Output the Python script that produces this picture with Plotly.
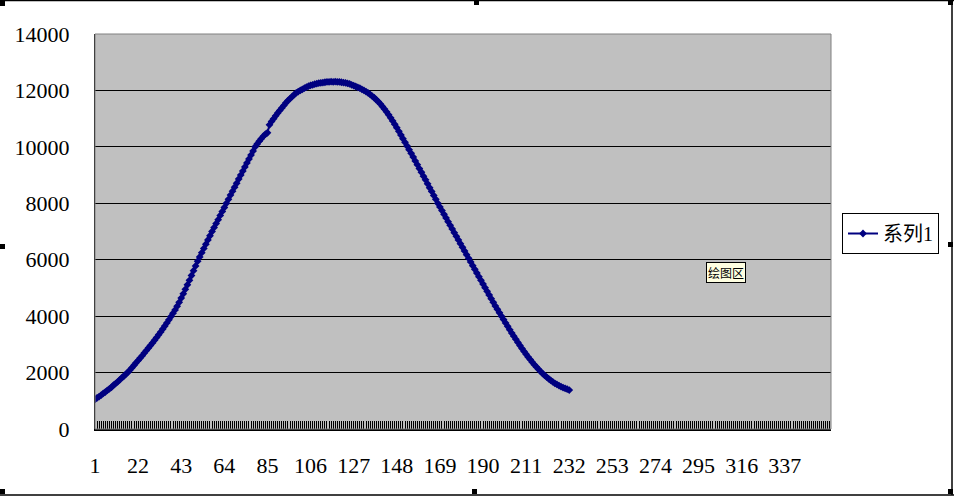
import plotly.graph_objects as go

# ---------------- data ----------------
series_name = "系列1"
values = [
    1050, 1100, 1150, 1200, 1260, 1310, 1370, 1420, 1480, 1550,
    1610, 1670, 1740, 1810, 1870, 1940, 2010, 2090, 2175, 2260,
    2345, 2430, 2515, 2600, 2690, 2780, 2870, 2960, 3050, 3145,
    3240, 3340, 3440, 3545, 3650, 3760, 3870, 3985, 4100, 4220,
    4350, 4490, 4640, 4790, 4950, 5110, 5270, 5440, 5610, 5780,
    5950, 6100, 6250, 6400, 6550, 6700, 6850, 7000, 7140, 7280,
    7420, 7570, 7710, 7850, 8000, 8140, 8290, 8430, 8570, 8710,
    8860, 9000, 9140, 9290, 9430, 9570, 9710, 9850, 10000, 10100,
    10200, 10290, 10380, 10450, 10500, 10780, 10900, 11000, 11100, 11200,
    11290, 11380, 11470, 11560, 11640, 11710, 11780, 11850, 11910, 11960,
    12000, 12040, 12080, 12120, 12150, 12180, 12200, 12220, 12240, 12260,
    12270, 12280, 12290, 12300, 12300, 12310, 12300, 12310, 12300, 12300,
    12290, 12280, 12270, 12250, 12230, 12200, 12170, 12140, 12110, 12080,
    12040, 12000, 11960, 11910, 11860, 11800, 11740, 11670, 11600, 11520,
    11430, 11340, 11240, 11140, 11030, 10920, 10800, 10680, 10550, 10420,
    10290, 10160, 10030, 9900, 9770, 9640, 9500, 9370, 9230, 9100,
    8960, 8830, 8690, 8550, 8420, 8280, 8140, 8000, 7870, 7740,
    7610, 7480, 7350, 7220, 7090, 6960, 6830, 6700, 6570, 6440,
    6310, 6180, 6050, 5920, 5790, 5660, 5530, 5400, 5270, 5140,
    5010, 4880, 4750, 4620, 4490, 4360, 4240, 4120, 4000, 3880,
    3760, 3640, 3520, 3400, 3290, 3180, 3070, 2960, 2850, 2750,
    2650, 2550, 2460, 2370, 2280, 2200, 2120, 2040, 1970, 1900,
    1840, 1780, 1720, 1670, 1620, 1580, 1540, 1500, 1470, 1440, 1410, 1380,
]
categories = list(range(1, len(values) + 1))
x_tick_vals = [1, 22, 43, 64, 85, 106, 127, 148, 169, 190, 211, 232, 253, 274, 295, 316, 337]
x_tick_text = [str(v) for v in x_tick_vals]
y_tick_vals = [0, 2000, 4000, 6000, 8000, 10000, 12000, 14000]
tooltip_text = "绘图区"

# ---------------- layout helpers (pixel -> paper) ----------------
W, H = 954, 497
L, R, T, B = 95, 831, 34, 429


def px(xp):
    return (xp - L) / (R - L)


def py(yp):
    return (B - yp) / (B - T)


SERIF = "'Liberation Serif', 'Times New Roman', 'Noto Sans CJK SC', serif"

fig = go.Figure()
fig.add_trace(go.Scatter(
    x=categories, y=values, name=series_name,
    mode="lines+markers",
    line=dict(color="#000080", width=2),
    marker=dict(symbol="diamond", size=6, color="#000080"),
))

shapes = []
shapes.append(dict(type="rect", xref="paper", yref="paper", x0=0, x1=1, y0=0, y1=1,
                   line=dict(color="#808080", width=1), fillcolor="rgba(0,0,0,0)", layer="above"))
for (x0, y0, x1, y1) in [(0, 0.5, W, 0.5), (952, 0, 952, 495), (0, 495, W, 495)]:
    shapes.append(dict(type="line", xref="paper", yref="paper",
                       x0=px(x0), x1=px(x1), y0=py(y0), y1=py(y1),
                       line=dict(color="black", width=1.5)))
for (hx, hy) in [(0, 1), (474, 0), (948, 0), (0, 244), (948, 242), (0, 489), (472, 489), (948, 489)]:
    shapes.append(dict(type="rect", xref="paper", yref="paper",
                       x0=px(hx), x1=px(hx + 5), y0=py(hy + 5), y1=py(hy),
                       fillcolor="black", line=dict(width=0)))

fig.update_layout(
    width=W, height=H,
    margin=dict(l=L, r=W - R, t=T, b=H - B, pad=0),
    paper_bgcolor="white",
    plot_bgcolor="#C0C0C0",
    font=dict(family=SERIF, size=22, color="black"),
    showlegend=True,
    legend=dict(
        x=px(842), y=py(213), xanchor="left", yanchor="top",
        bgcolor="white", bordercolor="black", borderwidth=1,
        font=dict(family=SERIF, size=20, color="black"),
        itemwidth=30, tracegroupgap=0,
    ),
    xaxis=dict(
        range=[1, 359.5], tickmode="array", tickvals=x_tick_vals, ticktext=x_tick_text,
        ticks="inside", ticklen=8, tickcolor="black", tickwidth=1,
        minor=dict(ticks="inside", dtick=1, tick0=1, ticklen=8, tickcolor="black", tickwidth=1),
        showgrid=False, zeroline=False,
        showline=True, linecolor="black", linewidth=2,
        ticklabelstandoff=16,
        tickfont=dict(family=SERIF, size=22),
    ),
    yaxis=dict(
        range=[0, 14000], tickmode="array", tickvals=y_tick_vals, tickformat="d",
        ticks="", showgrid=True, gridcolor="black", gridwidth=1,
        zeroline=False, showline=True, linecolor="black", linewidth=1,
        ticklabelstandoff=20,
        tickfont=dict(family=SERIF, size=22),
    ),
    shapes=shapes,
    annotations=[dict(
        xref="paper", yref="paper", x=px(726), y=py(272),
        xanchor="center", yanchor="middle",
        text=tooltip_text, showarrow=False,
        font=dict(family="Noto Sans CJK SC", size=12, color="black"),
        bgcolor="#FFFFE1", bordercolor="black", borderwidth=1, borderpad=1,
    )],
)

fig.write_html(
    "out.html",
    config={"displayModeBar": False},
    post_script="document.body.style.margin='0';document.body.style.padding='0';",
)
